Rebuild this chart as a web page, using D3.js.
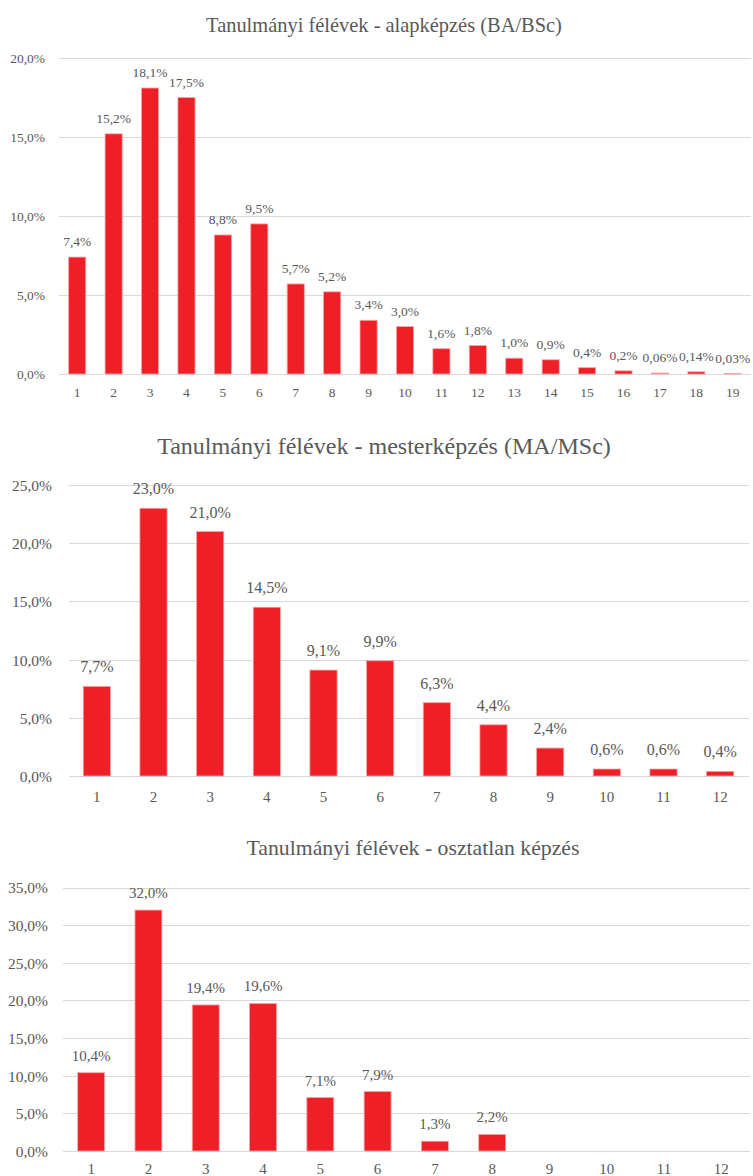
<!DOCTYPE html>
<html>
<head>
    <meta charset="utf-8">
    <title>Tanulmányi félévek</title>
    <script src="https://d3js.org/d3.v7.min.js"></script>
    <style>
        body { margin: 0; background: #fff; }
        svg { display: block; }
        svg text { font-family: "Liberation Serif", "DejaVu Serif", serif !important; fill: #595959; }
        .grid line { stroke: #d9d9d9; stroke-width: 1; shape-rendering: crispEdges; }
        .bar { fill: #ee1f26; stroke: #f7a5a8; stroke-width: 0.8; }
    </style>
</head>
<body>
<script>
    // ---- data ----
    var baTitle = "Tanulmányi félévek - alapképzés (BA/BSc)";
    var baCategories = ["1","2","3","4","5","6","7","8","9","10","11","12","13","14","15","16","17","18","19"];
    var baValues = [7.4, 15.2, 18.1, 17.5, 8.8, 9.5, 5.7, 5.2, 3.4, 3.0, 1.6, 1.8, 1.0, 0.9, 0.4, 0.2, 0.06, 0.14, 0.03];
    var baLabels = ["7,4%","15,2%","18,1%","17,5%","8,8%","9,5%","5,7%","5,2%","3,4%","3,0%","1,6%","1,8%","1,0%","0,9%","0,4%","0,2%","0,06%","0,14%","0,03%"];
    var baTicks = [0, 5, 10, 15, 20];

    var maTitle = "Tanulmányi félévek - mesterképzés (MA/MSc)";
    var maCategories = ["1","2","3","4","5","6","7","8","9","10","11","12"];
    var maValues = [7.7, 23.0, 21.0, 14.5, 9.1, 9.9, 6.3, 4.4, 2.4, 0.6, 0.6, 0.4];
    var maLabels = ["7,7%","23,0%","21,0%","14,5%","9,1%","9,9%","6,3%","4,4%","2,4%","0,6%","0,6%","0,4%"];
    var maTicks = [0, 5, 10, 15, 20, 25];

    var osTitle = "Tanulmányi félévek - osztatlan képzés";
    var osCategories = ["1","2","3","4","5","6","7","8","9","10","11","12"];
    var osValues = [10.4, 32.0, 19.4, 19.6, 7.1, 7.9, 1.3, 2.2, null, null, null, null];
    var osLabels = ["10,4%","32,0%","19,4%","19,6%","7,1%","7,9%","1,3%","2,2%","","","",""];
    var osTicks = [0, 5, 10, 15, 20, 25, 30, 35];

    var huLocale = d3.formatLocale({decimal: ",", thousands: " ", grouping: [3], currency: ["", " Ft"]});
    var fmt = huLocale.format(".1f");

    var svg = d3.select("body").append("svg")
        .attr("width", 753)
        .attr("height", 1176);

    // draw one bar chart
    function drawChart(title, categories, values, labels, ticks, L) {
        var g = svg.append("g");

        var x = d3.scaleBand()
            .domain(categories)
            .range([L.x0, L.x1])
            .paddingInner(L.pad)
            .paddingOuter(L.pad / 2);

        var y = d3.scaleLinear()
            .domain([0, ticks[ticks.length - 1]])
            .range([L.y0, L.y1]);

        // title, font size fitted to the measured width
        var t = g.append("text")
            .attr("x", L.titleX)
            .attr("y", L.titleY)
            .attr("text-anchor", "middle")
            .style("font-size", "20px")
            .text(title);
        var w = t.node().getComputedTextLength();
        t.style("font-size", (20 * L.titleW / w) + "px");

        // gridlines
        g.append("g")
            .attr("class", "grid")
            .selectAll("line")
            .data(ticks)
            .join("line")
            .attr("x1", L.x0)
            .attr("x2", L.x1)
            .attr("y1", function(d) { return Math.round(y(d)) + 0.5; })
            .attr("y2", function(d) { return Math.round(y(d)) + 0.5; });

        // y axis labels
        var yAxis = g.append("g")
            .attr("transform", "translate(" + L.yLabelX + ",0)")
            .call(d3.axisLeft(y).tickValues(ticks).tickSize(0).tickPadding(0)
                .tickFormat(function(d) { return fmt(d) + "%"; }));
        yAxis.select(".domain").remove();
        yAxis.selectAll("text")
            .attr("fill", null)
            .attr("dy", "0.35em")
            .style("font-size", L.tickSize + "px");

        // x axis labels
        var xAxis = g.append("g")
            .attr("transform", "translate(0," + L.xLabelY + ")")
            .call(d3.axisBottom(x).tickSize(0).tickPadding(0));
        xAxis.select(".domain").remove();
        xAxis.selectAll("text")
            .attr("fill", null)
            .attr("y", 0)
            .attr("dy", 0)
            .style("font-size", L.xSize + "px");

        var rows = categories.map(function(c, i) {
            return {cat: c, value: values[i], label: labels[i]};
        }).filter(function(d) { return d.value != null; });

        // bars
        g.append("g")
            .selectAll("rect")
            .data(rows)
            .join("rect")
            .attr("class", "bar")
            .attr("x", function(d) { return x(d.cat); })
            .attr("width", x.bandwidth())
            .attr("y", function(d) { return y(d.value); })
            .attr("height", function(d) { return y(0) - y(d.value); });

        // value labels
        g.append("g")
            .selectAll("text")
            .data(rows)
            .join("text")
            .attr("x", function(d) { return x(d.cat) + x.bandwidth() / 2; })
            .attr("y", function(d) { return y(d.value) - L.labelGap; })
            .attr("text-anchor", "middle")
            .style("font-size", L.labelSize + "px")
            .text(function(d) { return d.label; });
    }

    drawChart(baTitle, baCategories, baValues, baLabels, baTicks, {
        x0: 59, x1: 751, y0: 374, y1: 58, pad: 0.53,
        titleX: 384, titleY: 32, titleW: 356,
        yLabelX: 45, xLabelY: 397, tickSize: 13.5, xSize: 13.5, labelSize: 13.5, labelGap: 11
    });

    drawChart(maTitle, maCategories, maValues, maLabels, maTicks, {
        x0: 68.5, x1: 748.5, y0: 776, y1: 485, pad: 0.52,
        titleX: 384, titleY: 454, titleW: 454,
        yLabelX: 52, xLabelY: 802, tickSize: 15.5, xSize: 15, labelSize: 16, labelGap: 14
    });

    drawChart(osTitle, osCategories, osValues, osLabels, osTicks, {
        x0: 62.5, x1: 750, y0: 1151, y1: 887.5, pad: 0.53,
        titleX: 413, titleY: 855, titleW: 333,
        yLabelX: 48, xLabelY: 1174, tickSize: 15.5, xSize: 15, labelSize: 15, labelGap: 12
    });
</script>
</body>
</html>
